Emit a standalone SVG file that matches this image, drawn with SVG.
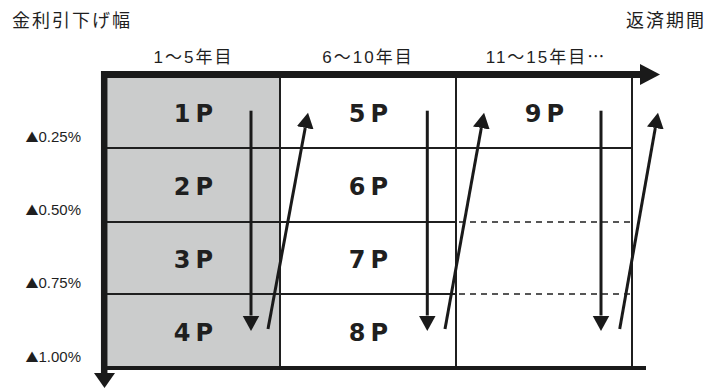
<svg xmlns="http://www.w3.org/2000/svg" width="706" height="388" viewBox="0 0 706 388">
<defs>
<style>
.ax{stroke:#1a1a1a;fill:none}
.thin{stroke:#1f1f1f;stroke-width:2;fill:none}
.dash{stroke:#1f1f1f;stroke-width:1.6;fill:none;stroke-dasharray:6 5}
.arr{stroke:#1a1a1a;stroke-width:3;fill:none}
.head{fill:#1a1a1a}
.cjk{font-family:"Liberation Sans","Noto Sans CJK JP",sans-serif;fill:#1f1f1f}
.jp{font-family:"Noto Sans CJK JP",sans-serif}
.pl{font-family:"DejaVu Sans","Liberation Sans",sans-serif;font-weight:bold;font-size:24px;letter-spacing:5px;fill:#1f1f1f;text-anchor:middle}
.rate{font-family:"Liberation Sans","DejaVu Sans",sans-serif;font-size:15px;fill:#1f1f1f;text-anchor:end}
.tri{font-family:"Noto Sans CJK JP",sans-serif;font-size:13px}
</style>
<marker id="ah" markerUnits="userSpaceOnUse" markerWidth="16" markerHeight="18" refX="0" refY="8.5" orient="auto" viewBox="0 0 16 17">
<path d="M0,0 L15.5,8.5 L0,17 z" class="head"/>
</marker>
</defs>

<g id="shade">
<rect x="107" y="78" width="173" height="288" fill="#cbcccc"/>
</g>

<g id="grid">
<line class="thin" x1="280" y1="78" x2="280" y2="366"/>
<line class="thin" x1="456" y1="78" x2="456" y2="366"/>
<line class="thin" x1="632" y1="78" x2="632" y2="366"/>
<line class="thin" x1="107" y1="148" x2="632" y2="148"/>
<line class="thin" x1="107" y1="222" x2="456" y2="222"/>
<line class="thin" x1="107" y1="294" x2="456" y2="294"/>
<line class="dash" x1="459" y1="222" x2="632" y2="222"/>
<line class="dash" x1="459" y1="294" x2="632" y2="294"/>
</g>

<g id="axes">
<line class="ax" x1="101" y1="74.5" x2="641" y2="74.5" stroke-width="7"/>
<polygon class="head" points="640,64 660,74.5 640,85"/>
<line class="ax" x1="104.2" y1="71" x2="104.2" y2="374" stroke-width="6.5"/>
<polygon class="head" points="94,373 115,373 104.5,388"/>
<line class="ax" x1="101" y1="368" x2="646" y2="368" stroke-width="4"/>
</g>

<g id="labels">
<text class="cjk" x="12" y="27" font-size="18" letter-spacing="2">金利引下げ幅</text>
<text class="cjk" x="626" y="27" font-size="18" letter-spacing="2">返済期間</text>
<text class="cjk" x="193.5" y="63" font-size="17" letter-spacing="2" text-anchor="middle">1～5年目</text>
<text class="cjk" x="368" y="63" font-size="17" letter-spacing="2" text-anchor="middle">6～10年目</text>
<text class="cjk" x="546" y="63" font-size="17" letter-spacing="2" text-anchor="middle">11～15年目<tspan class="jp">…</tspan></text>
<text class="rate" x="81" y="141.5"><tspan class="tri">▲</tspan>0.25%</text>
<text class="rate" x="81" y="215"><tspan class="tri">▲</tspan>0.50%</text>
<text class="rate" x="81" y="288"><tspan class="tri">▲</tspan>0.75%</text>
<text class="rate" x="81" y="361.5"><tspan class="tri">▲</tspan>1.00%</text>
</g>

<g id="node-1P"><text class="pl" x="196" y="122">1P</text></g>
<g id="node-2P"><text class="pl" x="196" y="195">2P</text></g>
<g id="node-3P"><text class="pl" x="196" y="268">3P</text></g>
<g id="node-4P"><text class="pl" x="196" y="341">4P</text></g>
<g id="node-5P"><text class="pl" x="371" y="122">5P</text></g>
<g id="node-6P"><text class="pl" x="371" y="195">6P</text></g>
<g id="node-7P"><text class="pl" x="371" y="268">7P</text></g>
<g id="node-8P"><text class="pl" x="371" y="341">8P</text></g>
<g id="node-9P"><text class="pl" x="547" y="122">9P</text></g>

<g id="connectors">
<line class="arr" x1="251" y1="110.7" x2="251" y2="315.5" marker-end="url(#ah)"/>
<line class="arr" x1="268" y1="329" x2="305.2" y2="127.9" marker-end="url(#ah)"/>
<line class="arr" x1="427.3" y1="110.7" x2="427.3" y2="315.5" marker-end="url(#ah)"/>
<line class="arr" x1="445" y1="329" x2="481.3" y2="128" marker-end="url(#ah)"/>
<line class="arr" x1="601" y1="110.7" x2="601" y2="315.5" marker-end="url(#ah)"/>
<line class="arr" x1="619.7" y1="329" x2="655.3" y2="128" marker-end="url(#ah)"/>
</g>
</svg>
